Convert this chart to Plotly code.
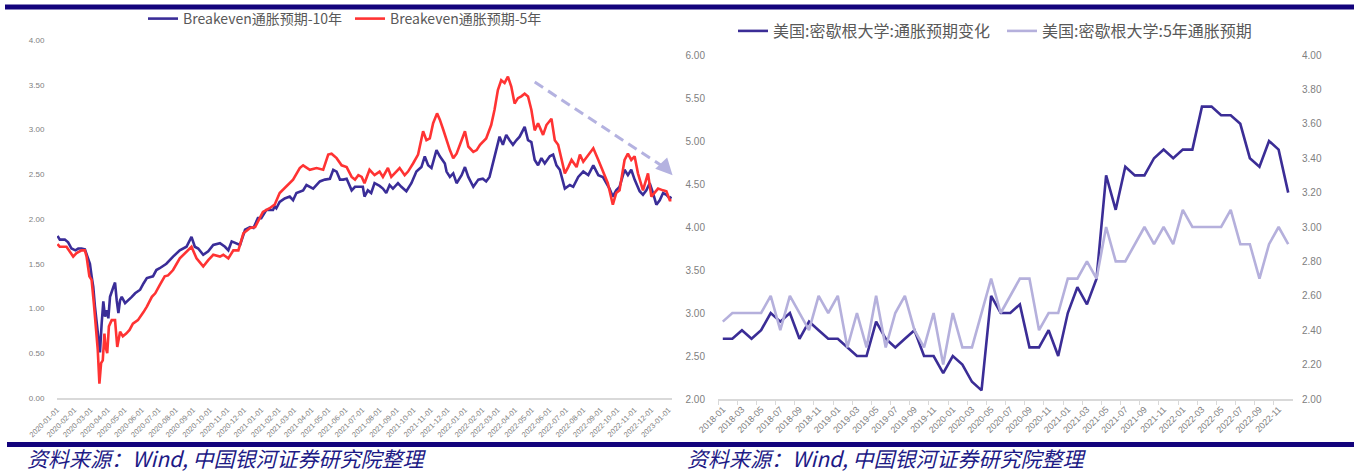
import plotly.graph_objects as go

W, H = 1354, 473

# ---------------- Breakeven inflation (daily, %) ----------------
be10_dates = [
    "2020-01-02", "2020-01-06", "2020-01-15", "2020-01-21", "2020-01-27", "2020-02-03", "2020-02-08",
    "2020-02-14", "2020-02-20", "2020-02-23", "2020-02-29", "2020-03-03", "2020-03-06", "2020-03-09",
    "2020-03-12", "2020-03-18", "2020-03-21", "2020-03-24", "2020-03-27", "2020-03-30", "2020-04-02",
    "2020-04-05", "2020-04-11", "2020-04-14", "2020-04-17", "2020-04-20", "2020-04-23", "2020-04-26",
    "2020-05-02", "2020-05-08", "2020-05-14", "2020-05-20", "2020-05-29", "2020-06-04", "2020-06-10",
    "2020-06-21", "2020-06-27", "2020-07-03", "2020-07-15", "2020-07-27", "2020-08-08", "2020-08-20",
    "2020-08-29", "2020-09-04", "2020-09-10", "2020-09-19", "2020-09-28", "2020-10-07", "2020-10-19",
    "2020-10-28", "2020-11-03", "2020-11-09", "2020-11-18", "2020-11-24", "2020-12-03", "2020-12-12",
    "2020-12-18", "2020-12-26", "2021-01-01", "2021-01-10", "2021-01-22", "2021-01-25", "2021-01-28",
    "2021-02-03", "2021-02-12", "2021-02-21", "2021-02-27", "2021-03-05", "2021-03-17", "2021-03-23",
    "2021-04-04", "2021-04-16", "2021-04-25", "2021-05-04", "2021-05-10", "2021-05-16", "2021-05-22",
    "2021-05-28", "2021-06-03", "2021-06-12", "2021-06-18", "2021-06-27", "2021-07-02", "2021-07-05",
    "2021-07-11", "2021-07-17", "2021-07-23", "2021-08-01", "2021-08-07", "2021-08-13", "2021-08-19",
    "2021-08-25", "2021-09-03", "2021-09-09", "2021-09-18", "2021-09-27", "2021-10-06", "2021-10-15",
    "2021-10-21", "2021-10-27", "2021-11-02", "2021-11-11", "2021-11-17", "2021-11-26", "2021-11-29",
    "2021-12-05", "2021-12-11", "2021-12-17", "2021-12-26", "2022-01-01", "2022-01-07", "2022-01-16",
    "2022-01-25", "2022-02-02", "2022-02-08", "2022-02-14", "2022-02-23", "2022-03-04", "2022-03-10",
    "2022-03-16", "2022-03-22", "2022-03-28", "2022-04-03", "2022-04-09", "2022-04-18", "2022-04-24",
    "2022-04-30", "2022-05-06", "2022-05-12", "2022-05-18", "2022-05-24", "2022-06-02", "2022-06-08",
    "2022-06-14", "2022-06-20", "2022-06-29", "2022-07-08", "2022-07-14", "2022-07-23", "2022-08-01",
    "2022-08-10", "2022-08-19", "2022-08-28", "2022-09-05", "2022-09-17", "2022-09-23", "2022-09-29",
    "2022-10-05", "2022-10-14", "2022-10-20", "2022-10-26", "2022-11-01", "2022-11-10", "2022-11-16",
    "2022-11-22", "2022-11-28", "2022-12-04", "2022-12-10", "2022-12-16", "2022-12-22", "2022-12-28",
    "2023-01-03", "2023-01-06",
]
be10_values = [
    1.81, 1.77, 1.77, 1.74, 1.67, 1.65, 1.67,
    1.67, 1.66, 1.60, 1.50, 1.36, 1.24, 1.02,
    0.87, 0.51, 0.83, 1.08, 0.91, 0.98, 0.89,
    1.13, 1.24, 1.29, 1.09, 0.95, 1.09, 1.13,
    1.06, 1.09, 1.13, 1.17, 1.21, 1.28, 1.34,
    1.36, 1.43, 1.45, 1.50, 1.58, 1.65, 1.69,
    1.80, 1.69, 1.67, 1.60, 1.64, 1.71, 1.73,
    1.69, 1.65, 1.75, 1.73, 1.71, 1.88, 1.91,
    1.90, 2.01, 2.01, 2.10, 2.10, 2.14, 2.12,
    2.19, 2.23, 2.25, 2.21, 2.29, 2.32, 2.38,
    2.34, 2.42, 2.44, 2.45, 2.55, 2.53, 2.44,
    2.44, 2.45, 2.32, 2.36, 2.36, 2.36, 2.25,
    2.32, 2.29, 2.40, 2.37, 2.34, 2.29, 2.38,
    2.34, 2.40, 2.36, 2.31, 2.40, 2.53, 2.58,
    2.70, 2.60, 2.57, 2.77, 2.70, 2.62, 2.53,
    2.47, 2.51, 2.40, 2.49, 2.58, 2.47, 2.36,
    2.44, 2.45, 2.42, 2.47, 2.70, 2.92, 2.83,
    2.94, 2.88, 2.83, 2.88, 2.92, 3.03, 2.88,
    2.86, 2.66, 2.60, 2.68, 2.62, 2.70, 2.72,
    2.60, 2.55, 2.34, 2.38, 2.36, 2.47, 2.53,
    2.49, 2.60, 2.49, 2.47, 2.34, 2.25, 2.32,
    2.36, 2.55, 2.49, 2.55, 2.44, 2.31, 2.27,
    2.32, 2.40, 2.29, 2.16, 2.21, 2.29, 2.27,
    2.23, 2.25,
]

be5_dates = [
    "2020-01-02", "2020-01-06", "2020-01-18", "2020-01-24", "2020-01-30", "2020-02-05", "2020-02-14",
    "2020-02-20", "2020-02-23", "2020-02-28", "2020-03-03", "2020-03-07", "2020-03-11", "2020-03-14",
    "2020-03-17", "2020-03-20", "2020-03-23", "2020-03-26", "2020-03-28", "2020-03-31", "2020-04-03",
    "2020-04-08", "2020-04-14", "2020-04-18", "2020-04-23", "2020-04-28", "2020-05-04", "2020-05-10",
    "2020-05-16", "2020-05-25", "2020-06-04", "2020-06-10", "2020-06-19", "2020-06-25", "2020-07-03",
    "2020-07-12", "2020-07-18", "2020-07-27", "2020-08-08", "2020-08-20", "2020-08-29", "2020-09-07",
    "2020-09-19", "2020-09-28", "2020-10-07", "2020-10-19", "2020-10-25", "2020-11-03", "2020-11-12",
    "2020-11-21", "2020-11-30", "2020-12-12", "2020-12-21", "2020-12-26", "2021-01-04", "2021-01-16",
    "2021-01-25", "2021-02-03", "2021-02-15", "2021-02-27", "2021-03-11", "2021-03-17", "2021-03-29",
    "2021-04-10", "2021-04-22", "2021-05-01", "2021-05-07", "2021-05-16", "2021-05-25", "2021-06-03",
    "2021-06-12", "2021-06-18", "2021-06-24", "2021-06-30", "2021-07-05", "2021-07-14", "2021-07-23",
    "2021-08-01", "2021-08-07", "2021-08-16", "2021-08-22", "2021-08-31", "2021-09-06", "2021-09-15",
    "2021-09-21", "2021-09-30", "2021-10-09", "2021-10-18", "2021-10-24", "2021-10-30", "2021-11-05",
    "2021-11-12", "2021-11-17", "2021-11-23", "2021-11-29", "2021-12-05", "2021-12-11", "2021-12-17",
    "2021-12-26", "2022-01-01", "2022-01-07", "2022-01-16", "2022-01-22", "2022-01-28", "2022-02-08",
    "2022-02-17", "2022-02-23", "2022-03-01", "2022-03-07", "2022-03-13", "2022-03-19", "2022-03-25",
    "2022-03-31", "2022-04-06", "2022-04-12", "2022-04-18", "2022-04-24", "2022-04-30", "2022-05-06",
    "2022-05-12", "2022-05-21", "2022-05-27", "2022-06-05", "2022-06-11", "2022-06-17", "2022-06-23",
    "2022-06-29", "2022-07-05", "2022-07-11", "2022-07-20", "2022-07-26", "2022-08-01", "2022-08-10",
    "2022-08-19", "2022-08-28", "2022-09-05", "2022-09-14", "2022-09-23", "2022-09-29", "2022-10-05",
    "2022-10-14", "2022-10-20", "2022-10-26", "2022-11-01", "2022-11-07", "2022-11-16", "2022-11-25",
    "2022-12-01", "2022-12-07", "2022-12-13", "2022-12-22", "2022-12-28", "2023-01-03", "2023-01-06",
]
be5_values = [
    1.72, 1.69, 1.69, 1.64, 1.58, 1.62, 1.65,
    1.65, 1.58, 1.36, 1.32, 1.06, 0.80, 0.54,
    0.16, 0.39, 0.42, 0.72, 0.57, 0.50, 0.80,
    0.87, 0.87, 0.57, 0.74, 0.69, 0.72, 0.76,
    0.83, 0.87, 0.96, 1.02, 1.13, 1.17, 1.26,
    1.36, 1.37, 1.43, 1.56, 1.64, 1.69, 1.56,
    1.47, 1.54, 1.60, 1.58, 1.60, 1.56, 1.65,
    1.65, 1.84, 1.90, 1.91, 1.97, 2.08, 2.12,
    2.16, 2.29, 2.36, 2.44, 2.57, 2.60, 2.55,
    2.57, 2.55, 2.72, 2.73, 2.68, 2.60, 2.58,
    2.47, 2.44, 2.49, 2.47, 2.40, 2.55, 2.49,
    2.53, 2.47, 2.57, 2.47, 2.53, 2.57, 2.49,
    2.53, 2.62, 2.72, 2.98, 2.88, 2.90, 3.07,
    3.18, 3.11, 3.00, 2.88, 2.77, 2.68, 2.73,
    2.88, 2.98, 2.81, 2.75, 2.77, 2.83, 2.90,
    3.05, 3.22, 3.44, 3.55, 3.52, 3.59, 3.48,
    3.29, 3.35, 3.37, 3.40, 3.37, 3.22, 2.99,
    3.07, 2.94, 3.05, 3.12, 2.88, 2.83, 2.66,
    2.51, 2.58, 2.66, 2.58, 2.72, 2.64, 2.72,
    2.79, 2.66, 2.53, 2.40, 2.16, 2.29, 2.32,
    2.66, 2.73, 2.66, 2.70, 2.51, 2.32, 2.51,
    2.25, 2.29, 2.34, 2.32, 2.31, 2.21, 2.21,
]

be_tick_dates = [f"{y}-{m:02d}-01" for y in (2020, 2021, 2022) for m in range(1, 13)] + ["2023-01-01"]

# trend arrow endpoints (date, value)
trend_start = ("2022-05-06", 3.53)
trend_end = ("2023-01-08", 2.49)

# ---------------- University of Michigan survey (monthly, %) ----------------
umich_months = [f"{y}-{m:02d}" for y in range(2018, 2023) for m in range(1, 13)]
umich_1y = [
    2.7, 2.7, 2.8, 2.7, 2.8, 3.0, 2.9, 3.0, 2.7, 2.9, 2.8, 2.7,
    2.7, 2.6, 2.5, 2.5, 2.9, 2.7, 2.6, 2.7, 2.8, 2.5, 2.5, 2.3,
    2.5, 2.4, 2.2, 2.1, 3.2, 3.0, 3.0, 3.1, 2.6, 2.6, 2.8, 2.5,
    3.0, 3.3, 3.1, 3.4, 4.6, 4.2, 4.7, 4.6, 4.6, 4.8, 4.9, 4.8,
    4.9, 4.9, 5.4, 5.4, 5.3, 5.3, 5.2, 4.8, 4.7, 5.0, 4.9, 4.4,
]
umich_5y = [
    2.45, 2.5, 2.5, 2.5, 2.5, 2.6, 2.4, 2.6, 2.5, 2.4, 2.6, 2.5,
    2.6, 2.3, 2.5, 2.3, 2.6, 2.3, 2.5, 2.6, 2.4, 2.3, 2.5, 2.2,
    2.5, 2.3, 2.3, 2.5, 2.7, 2.5, 2.6, 2.7, 2.7, 2.4, 2.5, 2.5,
    2.7, 2.7, 2.8, 2.7, 3.0, 2.8, 2.8, 2.9, 3.0, 2.9, 3.0, 2.9,
    3.1, 3.0, 3.0, 3.0, 3.0, 3.1, 2.9, 2.9, 2.7, 2.9, 3.0, 2.9,
]

LEGEND_10Y = "Breakeven通胀预期-10年"
LEGEND_5Y = "Breakeven通胀预期-5年"
LEGEND_U1 = "美国:密歇根大学:通胀预期变化"
LEGEND_U5 = "美国:密歇根大学:5年通胀预期"
SOURCE = "资料来源：Wind, 中国银河证券研究院整理"

# ---------------- layout helpers (pixel -> paper) ----------------
def px(x):
    return x / W


def py(y):
    return 1 - y / H


NAVY = "#13037c"
TICK_GREY = "#808080"
AXIS_GREY = "#d9d9d9"
CJK = "Noto Sans CJK SC"
NUM = "Liberation Sans"

fig = go.Figure()

fig.add_trace(go.Scatter(
    x=be10_dates, y=be10_values, mode="lines", name=LEGEND_10Y,
    line=dict(color="#3a2d98", width=2.6), xaxis="x", yaxis="y", legend="legend",
))
fig.add_trace(go.Scatter(
    x=be5_dates, y=be5_values, mode="lines", name=LEGEND_5Y,
    line=dict(color="#ff3333", width=2.6), xaxis="x", yaxis="y", legend="legend",
))
fig.add_trace(go.Scatter(
    x=umich_months, y=umich_1y, mode="lines", name=LEGEND_U1,
    line=dict(color="#3b2d96", width=2.6), xaxis="x2", yaxis="y2", legend="legend2",
))
fig.add_trace(go.Scatter(
    x=umich_months, y=umich_5y, mode="lines", name=LEGEND_U5,
    line=dict(color="#b5b0dc", width=2.6), xaxis="x2", yaxis="y3", legend="legend2",
))

# dashed trend arrow on the breakeven panel
ARROW = "#b4b2e0"
fig.add_shape(
    type="line", xref="x", yref="y",
    x0=trend_start[0], y0=trend_start[1], x1="2022-12-28", y1=2.56,
    line=dict(color=ARROW, width=3, dash="10px,6px"),
)
fig.add_annotation(
    xref="x", yref="y", axref="x", ayref="y",
    x=trend_end[0], y=trend_end[1], ax="2022-12-20", ay=2.615,
    text="", showarrow=True, arrowhead=2, arrowsize=1.1, arrowwidth=3, arrowcolor=ARROW,
)

# navy rules and source lines
fig.add_shape(type="rect", xref="paper", yref="paper", x0=px(5), x1=1, y0=py(9.5), y1=py(4.5),
              line=dict(width=0), fillcolor=NAVY, layer="above")
fig.add_shape(type="rect", xref="paper", yref="paper", x0=px(7), x1=1, y0=py(447), y1=py(442),
              line=dict(width=0), fillcolor=NAVY, layer="above")
for x0 in (25, 685):
    fig.add_annotation(
        xref="paper", yref="paper", x=px(x0), y=py(458), xanchor="left", yanchor="middle",
        text=SOURCE, showarrow=False,
        font=dict(family=CJK, size=21, color="#1d1a86", style="italic"),
    )

tick_font_small = dict(family=NUM, size=8, color=TICK_GREY)

fig.update_layout(
    template="none",
    width=W, height=H,
    margin=dict(l=0, r=0, t=0, b=0, pad=0, autoexpand=False),
    paper_bgcolor="white", plot_bgcolor="white",
    showlegend=True,
    xaxis=dict(
        domain=[px(57), px(672)], anchor="y", type="date", automargin=False,
        range=["2020-01-01", "2023-01-07"],
        tickmode="array", tickvals=be_tick_dates, tickformat="%Y-%m-%d", tickangle=-45,
        tickfont=dict(family=NUM, size=7.5, color=TICK_GREY),
        showgrid=False, zeroline=False, showline=True, linecolor=AXIS_GREY, linewidth=1.5,
        ticks="outside", ticklen=3, tickcolor="rgba(0,0,0,0)",
    ),
    yaxis=dict(
        domain=[py(398), py(40)], anchor="x", range=[0, 4], dtick=0.5, tickformat=".2f",
        automargin=False,
        tickfont=tick_font_small, showgrid=False, zeroline=False, showline=False,
        ticks="outside", ticklen=10, tickcolor="rgba(0,0,0,0)",
    ),
    xaxis2=dict(
        domain=[px(718), px(1293)], anchor="y2", type="category", automargin=False,
        range=[-0.5, len(umich_months) - 0.5],
        tickmode="linear", tick0=0, dtick=2, tickangle=-45, tickson="boundaries",
        tickfont=dict(family=NUM, size=9, color=TICK_GREY),
        showgrid=False, zeroline=False, showline=True, linecolor=AXIS_GREY, linewidth=1.5,
        ticks="outside", ticklen=4, tickcolor=AXIS_GREY,
    ),
    yaxis2=dict(
        domain=[py(399), py(55)], anchor="x2", range=[2, 6], dtick=0.5, tickformat=".2f",
        automargin=False,
        tickfont=dict(family=NUM, size=10, color=TICK_GREY), showgrid=False, zeroline=False,
        showline=False, ticks="outside", ticklen=10, tickcolor="rgba(0,0,0,0)",
    ),
    yaxis3=dict(
        domain=[py(399), py(55)], anchor="x2", overlaying="y2", side="right",
        range=[2, 4], dtick=0.2, tickformat=".2f", automargin=False,
        tickfont=dict(family=NUM, size=10, color=TICK_GREY), showgrid=False, zeroline=False,
        showline=False, ticks="outside", ticklen=6, tickcolor="rgba(0,0,0,0)",
    ),
    legend=dict(
        orientation="h", x=px(143), y=py(19), xanchor="left", yanchor="middle",
        font=dict(family=CJK, size=14, color="#595959"), bgcolor="rgba(0,0,0,0)",
        entrywidth=162, itemwidth=30,
    ),
    legend2=dict(
        orientation="h", x=px(733), y=py(31), xanchor="left", yanchor="middle",
        font=dict(family=CJK, size=16, color="#595959"), bgcolor="rgba(0,0,0,0)",
        entrywidth=224, itemwidth=30,
    ),
)

fig.write_html("out.html")
